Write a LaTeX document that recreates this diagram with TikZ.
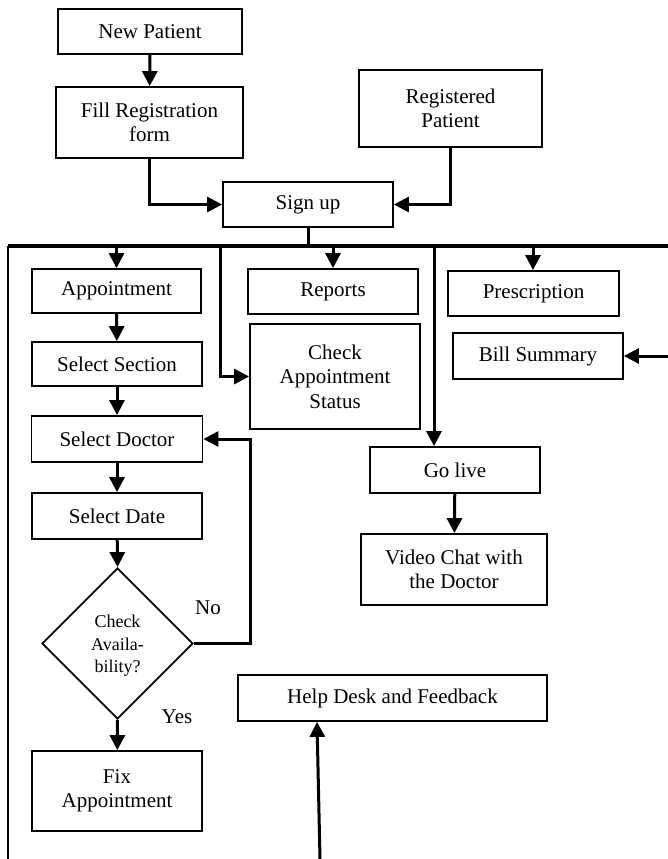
\documentclass[tikz,border=0pt]{standalone}
\usepackage{fontspec}
\setmainfont{Liberation Serif}
\usetikzlibrary{arrows.meta,shapes.geometric}
\begin{document}
\begin{tikzpicture}[x=1pt,y=-1pt,
  box/.style={draw,line width=1.8pt,inner sep=0pt,align=center,font=\fontsize{21}{24.5}\selectfont},
  conn/.style={line width=3pt},
  arr/.style={conn,-{Triangle[length=15pt,width=15pt]}},
  lbl/.style={font=\fontsize{21}{24}\selectfont}]
\useasboundingbox (0,0) rectangle (668,859);
% nodes
\node[box,minimum width=184pt,minimum height=45pt] (np) at (150,31.5) {New Patient};
\node[box,minimum width=187pt,minimum height=71pt] (fill) at (149.5,122.5) {Fill Registration\\form};
\node[box,minimum width=170pt,minimum height=45pt] (su) at (308,204.5) {Sign up};
\node[box,minimum width=183pt,minimum height=77pt] (rp) at (450.5,108.5) {Registered\\Patient};
\node[box,minimum width=169pt,minimum height=44pt] (app) at (116.5,291) {Appointment};
\node[box,minimum width=170pt,minimum height=45pt] (rep) at (333,291.5) {Reports};
\node[box,minimum width=171pt,minimum height=45pt] (pres) at (533.5,293.5) {Prescription};
\node[box,minimum width=170pt,minimum height=105pt] (cas) at (335,376.5) {Check\\Appointment\\Status};
\node[box,minimum width=170pt,minimum height=46pt] (bill) at (538,356) {Bill Summary};
\node[box,minimum width=170pt,minimum height=44pt] (sec) at (117,364) {Select Section};
\node[box,minimum width=171pt,minimum height=46pt] (doc) at (117,439) {Select Doctor};
\node[box,minimum width=170pt,minimum height=46pt] (date) at (117,516) {Select Date};
\node[draw,line width=1.8pt,shape=diamond,aspect=1,inner sep=0pt,minimum width=151pt,minimum height=151pt] (dia) at (117.5,643.5) {};
\node[align=center,font=\fontsize{18}{22.5}\selectfont,inner sep=0pt] (diatext) at (117.5,646) {Check\\Availa-\\bility?};
\node[box,minimum width=170pt,minimum height=80pt] (fix) at (117,791) {Fix\\Appointment};
\node[box,minimum width=170pt,minimum height=46pt] (go) at (455,470) {Go live};
\node[box,minimum width=186pt,minimum height=71pt] (vc) at (454,569.5) {Video Chat with\\the Doctor};
\node[box,minimum width=309pt,minimum height=46pt] (help) at (392.5,698) {Help Desk and Feedback};
\node[lbl] (no) at (208,608) {No};
\node[lbl] (yes) at (177,717) {Yes};
% coordinates
\coordinate (busL) at (8,246);
\coordinate (busR) at (668,246);
\coordinate (frameB) at (8,859);
\coordinate (casx) at (220,0);
\coordinate (gox) at (434,0);
\coordinate (presx) at (533,0);
\coordinate (billR) at (668,356);
\coordinate (loopx) at (250,0);
\coordinate (hb) at (320,859);
\coordinate (ht) at (317,0);
% frame and bus
\draw[line width=3.5pt] (busL) -- (busR);
\draw[line width=2.2pt] (busL) -- (frameB);
% connectors
\draw[arr] (np) -- (fill);
\draw[arr] (fill.south) |- (su.west);
\draw[arr] (rp.south) |- (su.east);
\draw[conn] (su.south) -- (su.south |- busL);
\draw[arr] (app.north |- busL) -- (app.north);
\draw[arr] (casx |- busL) |- (cas.west);
\draw[arr] (rep.north |- busL) -- (rep.north);
\draw[arr] (gox |- busL) -- (gox |- go.north);
\draw[arr] (presx |- busL) -- (presx |- pres.north);
\draw[arr] (billR) -- (bill.east);
\draw[arr] (app) -- (sec);
\draw[arr] (sec) -- (doc);
\draw[arr] (doc) -- (date);
\draw[arr] (date) -- (dia.north);
\draw[arr] (dia.south) -- (fix);
\draw[arr] (dia.east) -- (loopx |- dia.east) |- (doc.east);
\draw[arr] (go) -- (vc);
\draw[arr] (hb) -- (ht |- help.south);
\end{tikzpicture}
\end{document}
